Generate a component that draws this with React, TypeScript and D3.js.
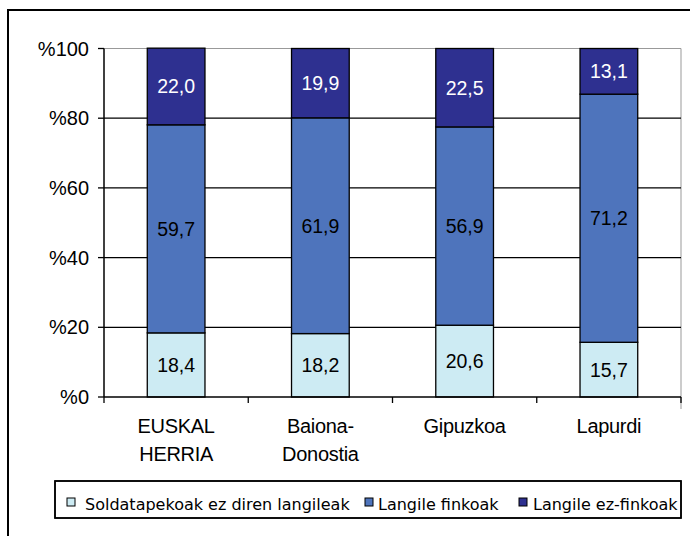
import React from "react";
import * as d3 from "d3";

const categories = [["EUSKAL", "HERRIA"], ["Baiona-", "Donostia"], ["Gipuzkoa"], ["Lapurdi"]];
const seriesNames = ["Soldatapekoak ez diren langileak", "Langile finkoak", "Langile ez-finkoak"];
const soldatapekoak = [18.4, 18.2, 20.6, 15.7];
const finkoak = [59.7, 61.9, 56.9, 71.2];
const ezFinkoak = [22.0, 19.9, 22.5, 13.1];
const yTicks = [0, 20, 40, 60, 80, 100];

const colors = ["#CDEBF3", "#4E74BC", "#2E3090"];
const labelColors = ["#000", "#000", "#fff"];

export default function App() {
  const W = 690, H = 536;
  const left = 104, right = 681, top = 48.5, bottom = 397;
  const x = d3.scaleBand<number>().domain(d3.range(categories.length)).range([left, right]).paddingInner(0.6).paddingOuter(0.3);
  const y = d3.scaleLinear().domain([0, 100]).range([bottom, top]);
  const step = (right - left) / categories.length;

  const rows = categories.map((_, i) => ({ i, s0: soldatapekoak[i], s1: finkoak[i], s2: ezFinkoak[i] }));
  const stacked = d3.stack<any>().keys(["s0", "s1", "s2"])(rows);

  const fmt = (v: number) => v.toFixed(1).replace(".", ",");
  const font = "'Liberation Sans', Arial, sans-serif";
  const legendFont = "'DejaVu Sans', Verdana, sans-serif";

  const legendItems = [
    { x: 67, tx: 85, name: seriesNames[0] },
    { x: 365, tx: 378, name: seriesNames[1] },
    { x: 519, tx: 533, name: seriesNames[2] },
  ];

  return (
    <svg width={W} height={H} style={{ position: "absolute", left: 0, top: 0, background: "#fff" }}>
      <defs>
        <clipPath id="legclip">
          <rect x={55} y={481} width={626} height={37} />
        </clipPath>
      </defs>
      <rect x={8} y={10} width={W} height={H} fill="#fff" stroke="#000" strokeWidth={2} />
      {/* plot area frame */}
      <line x1={left} x2={right} y1={y(100)} y2={y(100)} stroke="#999" strokeWidth={1} />
      <line x1={right} x2={right} y1={y(100)} y2={bottom + 12} stroke="#999" strokeWidth={1} />
      {/* gridlines */}
      {yTicks.filter(t => t > 0 && t < 100).map(t => (
        <line key={t} x1={left} x2={right} y1={y(t)} y2={y(t)} stroke="#000" strokeWidth={1.3} />
      ))}
      {/* bars */}
      {stacked.map((layer, k) =>
        layer.map((d, i) => (
          <rect key={k + "-" + i} x={x(i)} width={x.bandwidth()} y={y(d[1])} height={y(d[0]) - y(d[1])}
            fill={colors[k]} stroke="#000" strokeWidth={1.3} />
        ))
      )}
      {stacked.map((layer, k) =>
        layer.map((d, i) => (
          <text key={"t" + k + "-" + i} x={x(i)! + x.bandwidth() / 2} y={(y(d[0]) + y(d[1])) / 2 + 7}
            textAnchor="middle" fontFamily={font} fontSize={19.5} fill={labelColors[k]}>
            {fmt(d[1] - d[0])}
          </text>
        ))
      )}
      {/* y axis */}
      <line x1={left} x2={left} y1={y(100)} y2={bottom} stroke="#000" strokeWidth={1.5} />
      {yTicks.map(t => (
        <g key={t}>
          <line x1={left - 6} x2={left} y1={y(t)} y2={y(t)} stroke="#000" strokeWidth={1.3} />
          <text x={left - 15} y={y(t) + 7} textAnchor="end" fontFamily={font} fontSize={20}>{"%" + t}</text>
        </g>
      ))}
      {/* x axis */}
      <line x1={left} x2={right} y1={bottom} y2={bottom} stroke="#000" strokeWidth={1.5} />
      {d3.range(categories.length + 1).map(i => (
        <line key={i} x1={left + i * step} x2={left + i * step} y1={bottom} y2={bottom + 6} stroke="#000" strokeWidth={1.3} />
      ))}
      {categories.map((lines, i) => (
        <text key={i} x={x(i)! + x.bandwidth() / 2} textAnchor="middle" fontFamily={font} fontSize={20} letterSpacing={-0.3}>
          {lines.map((l, j) => (
            <tspan key={j} x={x(i)! + x.bandwidth() / 2} y={433 + j * 28}>{l}</tspan>
          ))}
        </text>
      ))}
      {/* legend */}
      <rect x={55} y={481} width={626} height={37} fill="#fff" stroke="#000" strokeWidth={1.5} />
      <g clipPath="url(#legclip)">
        {legendItems.map((it, k) => (
          <g key={k}>
            <rect x={it.x} y={498} width={8} height={8} fill={colors[k]} stroke="#000" strokeWidth={1} />
            <text x={it.tx} y={510} fontFamily={legendFont} fontSize={16}>{it.name}</text>
          </g>
        ))}
      </g>
      <rect x={55} y={481} width={626} height={37} fill="none" stroke="#000" strokeWidth={1.5} />
    </svg>
  );
}
